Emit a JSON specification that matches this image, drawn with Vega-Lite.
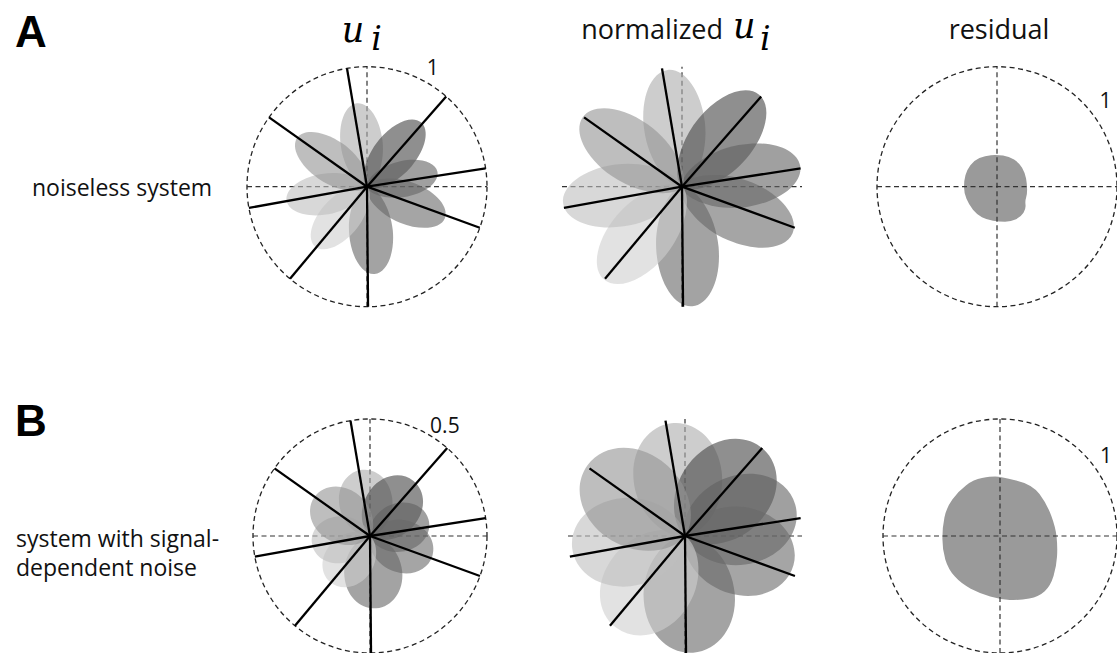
{
  "$schema": "https://vega.github.io/schema/vega-lite/v6.json",
  "padding": 0,
  "background": "white",
  "config": {"view": {"stroke": null}, "legend": {"disable": true}, "font": "Open Sans"},
  "datasets": {
    "petals": [
      {"panel": "Au", "unit": 1, "dir": 97, "value": 0.70},
      {"panel": "Au", "unit": 2, "dir": 50, "value": 0.70},
      {"panel": "Au", "unit": 3, "dir": 12, "value": 0.60},
      {"panel": "Au", "unit": 4, "dir": 338, "value": 0.70},
      {"panel": "Au", "unit": 5, "dir": 275, "value": 0.73},
      {"panel": "Au", "unit": 6, "dir": 229, "value": 0.66},
      {"panel": "Au", "unit": 7, "dir": 190, "value": 0.68},
      {"panel": "Au", "unit": 8, "dir": 145, "value": 0.71},
      {"panel": "An", "unit": 1, "dir": 97, "value": 0.98},
      {"panel": "An", "unit": 2, "dir": 50, "value": 1.0},
      {"panel": "An", "unit": 3, "dir": 10, "value": 1.0},
      {"panel": "An", "unit": 4, "dir": 337, "value": 1.0},
      {"panel": "An", "unit": 5, "dir": 275, "value": 1.0},
      {"panel": "An", "unit": 6, "dir": 230, "value": 1.01},
      {"panel": "An", "unit": 7, "dir": 188, "value": 1.0},
      {"panel": "An", "unit": 8, "dir": 145, "value": 1.01},
      {"panel": "Bu", "unit": 1, "dir": 97, "value": 0.285},
      {"panel": "Bu", "unit": 2, "dir": 52, "value": 0.30},
      {"panel": "Bu", "unit": 3, "dir": 16, "value": 0.26},
      {"panel": "Bu", "unit": 4, "dir": 342, "value": 0.28},
      {"panel": "Bu", "unit": 5, "dir": 275, "value": 0.31},
      {"panel": "Bu", "unit": 6, "dir": 229, "value": 0.26},
      {"panel": "Bu", "unit": 7, "dir": 187, "value": 0.25},
      {"panel": "Bu", "unit": 8, "dir": 145, "value": 0.29},
      {"panel": "Bn", "unit": 1, "dir": 97, "value": 0.97},
      {"panel": "Bn", "unit": 2, "dir": 48, "value": 1.0},
      {"panel": "Bn", "unit": 3, "dir": 16, "value": 0.98},
      {"panel": "Bn", "unit": 4, "dir": 345, "value": 0.96},
      {"panel": "Bn", "unit": 5, "dir": 274, "value": 1.0},
      {"panel": "Bn", "unit": 6, "dir": 233, "value": 0.98},
      {"panel": "Bn", "unit": 7, "dir": 186, "value": 0.97},
      {"panel": "Bn", "unit": 8, "dir": 144, "value": 1.03}
    ],
    "dirs": [
      {"unit": 1, "dir": 99.6},
      {"unit": 2, "dir": 48.7},
      {"unit": 3, "dir": 8.8},
      {"unit": 4, "dir": 340.0},
      {"unit": 5, "dir": 270.5},
      {"unit": 6, "dir": 230.1},
      {"unit": 7, "dir": 190.2},
      {"unit": 8, "dir": 144.7}
    ],
    "resid": [
      {"panel": "Ar", "value": 0.267},
      {"panel": "Br", "value": 0.5}
    ]
  },
  "spacing": 88,
  "resolve": {"scale": {"size": "independent"}},
  "vconcat": [
    {
      "spacing": 75,
      "bounds": "flush",
      "resolve": {"scale": {"size": "independent"}},
      "hconcat": [
        {
          "width": 172, "height": 306.7,
          "data": {"values": [{"k": 1}]},
          "encoding": {
            "x": {"datum": 0, "type": "quantitative", "scale": {"domain": [0, 1], "nice": false, "zero": false}, "axis": null},
            "y": {"datum": 0, "type": "quantitative", "scale": {"domain": [-1, 1.5558], "nice": false, "zero": false}, "axis": null}
          },
          "layer": [
            {"mark": {"type": "text", "text": "A", "font": "Liberation Sans", "fontWeight": "bold", "fontSize": 44, "align": "left", "baseline": "alphabetic", "color": "black"},
             "encoding": {"x": {"datum": 0.087}, "y": {"datum": 1.164}}},
            {"mark": {"type": "text", "text": "noiseless system", "font": "Open Sans", "fontSize": 23, "align": "left", "baseline": "alphabetic", "color": "#111"},
             "encoding": {"x": {"datum": 0.186}, "y": {"datum": -0.0775}}}
          ]
        },
        {
          "width": 240, "height": 306.7,
          "data": {"values": [{"k": 1}]},
          "encoding": {
            "x": {"datum": 0, "type": "quantitative", "scale": {"domain": [-1, 1], "nice": false, "zero": false}, "axis": null},
            "y": {"datum": 0, "type": "quantitative", "scale": {"domain": [-1, 1.5558], "nice": false, "zero": false}, "axis": null}
          },
          "layer": [
            {"mark": {"type": "point", "shape": "M2,0C2,1.105 1.105,2 0,2C-1.105,2 -2,1.105 -2,0C-2,-1.105 -1.105,-2 0,-2C1.105,-2 2,-1.105 2,0Z", "filled": false, "color": "#222", "stroke": "#222", "strokeWidth": 1.3, "strokeDash": [5, 3.5], "opacity": 1},
             "encoding": {"size": {"datum": 1, "type": "quantitative", "scale": {"type": "pow", "exponent": 2, "domain": [0, 1], "range": [0, 14400]}}}},
            {"mark": {"type": "rule", "color": "#333", "strokeWidth": 1.2, "strokeDash": [5, 3.5]},
             "encoding": {"x": {"datum": -1}, "x2": {"datum": 1}, "y": {"datum": 0}}},
            {"mark": {"type": "rule", "color": "#333", "strokeWidth": 1.2, "strokeDash": [5, 3.5]},
             "encoding": {"y": {"datum": -1}, "y2": {"datum": 1}, "x": {"datum": 0}}},
            {"data": {"name": "petals"}, "transform": [{"filter": "datum.panel === 'Au'"}],
             "mark": {"type": "point", "shape": "M0,0C0.22,0 0.5,-0.5 0.5,-1.05C0.5,-1.6 0.27,-2 0,-2C-0.27,-2 -0.5,-1.6 -0.5,-1.05C-0.5,-0.5 -0.22,0 0,0Z", "filled": true, "opacity": 1, "fillOpacity": 0.6, "strokeWidth": 0},
             "encoding": {
               "size": {"field": "value", "type": "quantitative", "scale": {"type": "pow", "exponent": 2, "domain": [0, 1], "range": [0, 14400]}},
               "angle": {"field": "dir", "type": "quantitative", "scale": {"domain": [0, 360], "range": [90, -270]}},
               "color": {"field": "unit", "type": "nominal", "scale": {"domain": [1, 2, 3, 4, 5, 6, 7, 8], "range": ["#acacac", "#444444", "#616161", "#696969", "#666666", "#cfcfcf", "#bebebe", "#939393"]}}
             }},
            {"data": {"name": "dirs"},
             "mark": {"type": "point", "shape": "M0,0L0,-2", "filled": false, "color": "black", "stroke": "black", "strokeWidth": 2.3, "strokeCap": "butt", "opacity": 1},
             "encoding": {
               "size": {"datum": 1, "type": "quantitative", "scale": {"type": "pow", "exponent": 2, "domain": [0, 1], "range": [0, 14400]}},
               "angle": {"field": "dir", "type": "quantitative", "scale": {"domain": [0, 360], "range": [90, -270]}}
             }},
            {"mark": {"type": "text", "text": "1", "font": "Open Sans", "fontSize": 21, "align": "center", "baseline": "alphabetic", "color": "#111"},
             "encoding": {"x": {"datum": 0.548}, "y": {"datum": 0.931}}},
            {"mark": {"type": "text", "text": "u", "font": "DejaVu Serif", "fontStyle": "italic", "fontSize": 35, "align": "left", "baseline": "alphabetic", "color": "black"},
             "encoding": {"x": {"datum": -0.21}, "y": {"datum": 1.206}}},
            {"mark": {"type": "text", "text": "i", "font": "DejaVu Serif", "fontStyle": "italic", "fontSize": 33, "align": "left", "baseline": "alphabetic", "color": "black"},
             "encoding": {"x": {"datum": 0.035}, "y": {"datum": 1.139}}}
          ]
        },
        {
          "width": 240, "height": 306.7,
          "data": {"values": [{"k": 1}]},
          "encoding": {
            "x": {"datum": 0, "type": "quantitative", "scale": {"domain": [-1, 1], "nice": false, "zero": false}, "axis": null},
            "y": {"datum": 0, "type": "quantitative", "scale": {"domain": [-1, 1.5558], "nice": false, "zero": false}, "axis": null}
          },
          "layer": [
            {"mark": {"type": "rule", "color": "#333", "strokeWidth": 1.2, "strokeDash": [5, 3.5]},
             "encoding": {"x": {"datum": -1}, "x2": {"datum": 1}, "y": {"datum": 0}}},
            {"mark": {"type": "rule", "color": "#333", "strokeWidth": 1.2, "strokeDash": [5, 3.5]},
             "encoding": {"y": {"datum": -1}, "y2": {"datum": 1}, "x": {"datum": 0}}},
            {"data": {"name": "petals"}, "transform": [{"filter": "datum.panel === 'An'"}],
             "mark": {"type": "point", "shape": "M0,0C0.22,0 0.52,-0.5 0.52,-1.05C0.52,-1.6 0.28,-2 0,-2C-0.28,-2 -0.52,-1.6 -0.52,-1.05C-0.52,-0.5 -0.22,0 0,0Z", "filled": true, "opacity": 1, "fillOpacity": 0.6, "strokeWidth": 0},
             "encoding": {
               "size": {"field": "value", "type": "quantitative", "scale": {"type": "pow", "exponent": 2, "domain": [0, 1], "range": [0, 14400]}},
               "angle": {"field": "dir", "type": "quantitative", "scale": {"domain": [0, 360], "range": [90, -270]}},
               "color": {"field": "unit", "type": "nominal", "scale": {"domain": [1, 2, 3, 4, 5, 6, 7, 8], "range": ["#acacac", "#444444", "#616161", "#696969", "#666666", "#cfcfcf", "#bebebe", "#939393"]}}
             }},
            {"data": {"name": "dirs"},
             "mark": {"type": "point", "shape": "M0,0L0,-2", "filled": false, "color": "black", "stroke": "black", "strokeWidth": 2.3, "strokeCap": "butt", "opacity": 1},
             "encoding": {
               "size": {"datum": 1, "type": "quantitative", "scale": {"type": "pow", "exponent": 2, "domain": [0, 1], "range": [0, 14400]}},
               "angle": {"field": "dir", "type": "quantitative", "scale": {"domain": [0, 360], "range": [90, -270]}}
             }},
            {"mark": {"type": "text", "text": "normalized", "font": "Open Sans", "fontSize": 27, "align": "right", "baseline": "alphabetic", "color": "#111"},
             "encoding": {"x": {"datum": 0.342}, "y": {"datum": 1.228}}},
            {"mark": {"type": "text", "text": "u", "font": "DejaVu Serif", "fontStyle": "italic", "fontSize": 35, "align": "left", "baseline": "alphabetic", "color": "black"},
             "encoding": {"x": {"datum": 0.425}, "y": {"datum": 1.237}}},
            {"mark": {"type": "text", "text": "i", "font": "DejaVu Serif", "fontStyle": "italic", "fontSize": 33, "align": "left", "baseline": "alphabetic", "color": "black"},
             "encoding": {"x": {"datum": 0.65}, "y": {"datum": 1.139}}}
          ]
        },
        {
          "width": 240, "height": 306.7,
          "data": {"values": [{"k": 1}]},
          "encoding": {
            "x": {"datum": 0, "type": "quantitative", "scale": {"domain": [-1, 1], "nice": false, "zero": false}, "axis": null},
            "y": {"datum": 0, "type": "quantitative", "scale": {"domain": [-1, 1.5558], "nice": false, "zero": false}, "axis": null}
          },
          "layer": [
            {"mark": {"type": "point", "shape": "M2,0C2,1.105 1.105,2 0,2C-1.105,2 -2,1.105 -2,0C-2,-1.105 -1.105,-2 0,-2C1.105,-2 2,-1.105 2,0Z", "filled": false, "color": "#222", "stroke": "#222", "strokeWidth": 1.3, "strokeDash": [5, 3.5], "opacity": 1},
             "encoding": {"size": {"datum": 1, "type": "quantitative", "scale": {"type": "pow", "exponent": 2, "domain": [0, 1], "range": [0, 14400]}}}},
            {"data": {"name": "resid"}, "transform": [{"filter": "datum.panel === 'Ar'"}],
             "mark": {"type": "point", "shape": "M-0.375,-1.97Q0,-2 0.375,-1.94Q0.75,-1.88 1.065,-1.69Q1.38,-1.5 1.565,-1.19Q1.75,-0.88 1.815,-0.505Q1.88,-0.13 1.88,0.185Q1.88,0.5 1.815,0.69Q1.75,0.88 1.78,1.13Q1.81,1.38 1.655,1.63Q1.5,1.88 1.19,2.035Q0.88,2.19 0.505,2.19Q0.13,2.19 -0.25,2.125Q-0.63,2.06 -0.94,1.905Q-1.25,1.75 -1.5,1.44Q-1.75,1.13 -1.905,0.755Q-2.06,0.38 -2.06,0Q-2.06,-0.38 -1.97,-0.72Q-1.88,-1.06 -1.66,-1.345Q-1.44,-1.63 -1.095,-1.785Q-0.75,-1.94 -0.375,-1.97Z", "filled": true, "color": "#9a9a9a", "fill": "#9a9a9a", "opacity": 1, "strokeWidth": 0},
             "encoding": {"size": {"field": "value", "type": "quantitative", "scale": {"type": "pow", "exponent": 2, "domain": [0, 1], "range": [0, 14400]}}}},
            {"mark": {"type": "rule", "color": "#333", "strokeWidth": 1.2, "strokeDash": [5, 3.5]},
             "encoding": {"x": {"datum": -1}, "x2": {"datum": 1}, "y": {"datum": 0}}},
            {"mark": {"type": "rule", "color": "#333", "strokeWidth": 1.2, "strokeDash": [5, 3.5]},
             "encoding": {"y": {"datum": -1}, "y2": {"datum": 1}, "x": {"datum": 0}}},
            {"mark": {"type": "text", "text": "1", "font": "Open Sans", "fontSize": 21, "align": "center", "baseline": "alphabetic", "color": "#111"},
             "encoding": {"x": {"datum": 0.904}, "y": {"datum": 0.653}}},
            {"mark": {"type": "text", "text": "residual", "font": "Open Sans", "fontSize": 27, "align": "center", "baseline": "alphabetic", "color": "#111"},
             "encoding": {"x": {"datum": 0.017}, "y": {"datum": 1.228}}}
          ]
        }
      ]
    },
    {
      "spacing": 75,
      "bounds": "flush",
      "resolve": {"scale": {"size": "independent"}},
      "hconcat": [
        {
          "width": 175, "height": 240,
          "data": {"values": [{"k": 1}]},
          "encoding": {
            "x": {"datum": 0, "type": "quantitative", "scale": {"domain": [0, 1], "nice": false, "zero": false}, "axis": null},
            "y": {"datum": 0, "type": "quantitative", "scale": {"domain": [-1.0256, 1.0256], "nice": false, "zero": false}, "axis": null}
          },
          "layer": [
            {"mark": {"type": "text", "text": "B", "font": "Liberation Sans", "fontWeight": "bold", "fontSize": 44, "align": "left", "baseline": "alphabetic", "color": "black"},
             "encoding": {"x": {"datum": 0.0857}, "y": {"datum": 0.855}}},
            {"mark": {"type": "text", "text": ["system with signal-", "dependent noise"], "font": "Open Sans", "fontSize": 23, "lineHeight": 29, "align": "left", "baseline": "alphabetic", "color": "#111"},
             "encoding": {"x": {"datum": 0.0914}, "y": {"datum": -0.095}}}
          ]
        },
        {
          "width": 240, "height": 240,
          "data": {"values": [{"k": 1}]},
          "encoding": {
            "x": {"datum": 0, "type": "quantitative", "scale": {"domain": [-0.5128, 0.5128], "nice": false, "zero": false}, "axis": null},
            "y": {"datum": 0, "type": "quantitative", "scale": {"domain": [-0.5128, 0.5128], "nice": false, "zero": false}, "axis": null}
          },
          "layer": [
            {"mark": {"type": "point", "shape": "M2,0C2,1.105 1.105,2 0,2C-1.105,2 -2,1.105 -2,0C-2,-1.105 -1.105,-2 0,-2C1.105,-2 2,-1.105 2,0Z", "filled": false, "color": "#222", "stroke": "#222", "strokeWidth": 1.3, "strokeDash": [5, 3.5], "opacity": 1},
             "encoding": {"size": {"datum": 0.5, "type": "quantitative", "scale": {"type": "pow", "exponent": 2, "domain": [0, 0.5], "range": [0, 13689]}}}},
            {"mark": {"type": "rule", "color": "#333", "strokeWidth": 1.2, "strokeDash": [5, 3.5]},
             "encoding": {"x": {"datum": -0.5}, "x2": {"datum": 0.5}, "y": {"datum": 0}}},
            {"mark": {"type": "rule", "color": "#333", "strokeWidth": 1.2, "strokeDash": [5, 3.5]},
             "encoding": {"y": {"datum": -0.5}, "y2": {"datum": 0.5}, "x": {"datum": 0}}},
            {"data": {"name": "petals"}, "transform": [{"filter": "datum.panel === 'Bu'"}],
             "mark": {"type": "point", "shape": "M0,0C0.35,0 0.8,-0.45 0.8,-1.05C0.8,-1.6 0.44,-2 0,-2C-0.44,-2 -0.8,-1.6 -0.8,-1.05C-0.8,-0.45 -0.35,0 0,0Z", "filled": true, "opacity": 1, "fillOpacity": 0.6, "strokeWidth": 0},
             "encoding": {
               "size": {"field": "value", "type": "quantitative", "scale": {"type": "pow", "exponent": 2, "domain": [0, 0.5], "range": [0, 13689]}},
               "angle": {"field": "dir", "type": "quantitative", "scale": {"domain": [0, 360], "range": [90, -270]}},
               "color": {"field": "unit", "type": "nominal", "scale": {"domain": [1, 2, 3, 4, 5, 6, 7, 8], "range": ["#acacac", "#444444", "#616161", "#696969", "#666666", "#cfcfcf", "#bebebe", "#939393"]}}
             }},
            {"data": {"name": "dirs"},
             "mark": {"type": "point", "shape": "M0,0L0,-2", "filled": false, "color": "black", "stroke": "black", "strokeWidth": 2.3, "strokeCap": "butt", "opacity": 1},
             "encoding": {
               "size": {"datum": 0.5, "type": "quantitative", "scale": {"type": "pow", "exponent": 2, "domain": [0, 0.5], "range": [0, 13689]}},
               "angle": {"field": "dir", "type": "quantitative", "scale": {"domain": [0, 360], "range": [90, -270]}}
             }},
            {"mark": {"type": "text", "text": "0.5", "font": "Open Sans", "fontSize": 21, "align": "center", "baseline": "alphabetic", "color": "#111"},
             "encoding": {"x": {"datum": 0.32}, "y": {"datum": 0.441}}}
          ]
        },
        {
          "width": 240, "height": 240,
          "data": {"values": [{"k": 1}]},
          "encoding": {
            "x": {"datum": 0, "type": "quantitative", "scale": {"domain": [-1.0256, 1.0256], "nice": false, "zero": false}, "axis": null},
            "y": {"datum": 0, "type": "quantitative", "scale": {"domain": [-1.0256, 1.0256], "nice": false, "zero": false}, "axis": null}
          },
          "layer": [
            {"mark": {"type": "rule", "color": "#333", "strokeWidth": 1.2, "strokeDash": [5, 3.5]},
             "encoding": {"x": {"datum": -1}, "x2": {"datum": 1}, "y": {"datum": 0}}},
            {"mark": {"type": "rule", "color": "#333", "strokeWidth": 1.2, "strokeDash": [5, 3.5]},
             "encoding": {"y": {"datum": -1}, "y2": {"datum": 1}, "x": {"datum": 0}}},
            {"data": {"name": "petals"}, "transform": [{"filter": "datum.panel === 'Bn'"}],
             "mark": {"type": "point", "shape": "M0,0C0.35,0 0.78,-0.45 0.78,-1.05C0.78,-1.6 0.43,-2 0,-2C-0.43,-2 -0.78,-1.6 -0.78,-1.05C-0.78,-0.45 -0.35,0 0,0Z", "filled": true, "opacity": 1, "fillOpacity": 0.6, "strokeWidth": 0},
             "encoding": {
               "size": {"field": "value", "type": "quantitative", "scale": {"type": "pow", "exponent": 2, "domain": [0, 1], "range": [0, 13689]}},
               "angle": {"field": "dir", "type": "quantitative", "scale": {"domain": [0, 360], "range": [90, -270]}},
               "color": {"field": "unit", "type": "nominal", "scale": {"domain": [1, 2, 3, 4, 5, 6, 7, 8], "range": ["#acacac", "#444444", "#616161", "#696969", "#666666", "#cfcfcf", "#bebebe", "#939393"]}}
             }},
            {"data": {"name": "dirs"},
             "mark": {"type": "point", "shape": "M0,0L0,-2", "filled": false, "color": "black", "stroke": "black", "strokeWidth": 2.3, "strokeCap": "butt", "opacity": 1},
             "encoding": {
               "size": {"datum": 1, "type": "quantitative", "scale": {"type": "pow", "exponent": 2, "domain": [0, 1], "range": [0, 13689]}},
               "angle": {"field": "dir", "type": "quantitative", "scale": {"domain": [0, 360], "range": [90, -270]}}
             }}
          ]
        },
        {
          "width": 240, "height": 240,
          "data": {"values": [{"k": 1}]},
          "encoding": {
            "x": {"datum": 0, "type": "quantitative", "scale": {"domain": [-1.0256, 1.0256], "nice": false, "zero": false}, "axis": null},
            "y": {"datum": 0, "type": "quantitative", "scale": {"domain": [-1.0256, 1.0256], "nice": false, "zero": false}, "axis": null}
          },
          "layer": [
            {"mark": {"type": "point", "shape": "M2,0C2,1.105 1.105,2 0,2C-1.105,2 -2,1.105 -2,0C-2,-1.105 -1.105,-2 0,-2C1.105,-2 2,-1.105 2,0Z", "filled": false, "color": "#222", "stroke": "#222", "strokeWidth": 1.3, "strokeDash": [5, 3.5], "opacity": 1},
             "encoding": {"size": {"datum": 1, "type": "quantitative", "scale": {"type": "pow", "exponent": 2, "domain": [0, 1], "range": [0, 13689]}}}},
            {"data": {"name": "resid"}, "transform": [{"filter": "datum.panel === 'Br'"}],
             "mark": {"type": "point", "shape": "M-0.165,-2.03Q0,-2.03 0.55,-1.9Q1.1,-1.77 1.35,-1.435Q1.6,-1.1 1.75,-0.7Q1.9,-0.3 1.935,0.035Q1.97,0.37 1.95,0.7Q1.93,1.03 1.83,1.365Q1.73,1.7 1.53,1.885Q1.33,2.07 1.0,2.135Q0.67,2.2 0.335,2.185Q0,2.17 -0.335,2.07Q-0.67,1.97 -1.0,1.8Q-1.33,1.63 -1.55,1.38Q-1.77,1.13 -1.87,0.8Q-1.97,0.47 -1.97,0.085Q-1.97,-0.3 -1.9,-0.635Q-1.83,-0.97 -1.63,-1.25Q-1.43,-1.53 -1.165,-1.73Q-0.9,-1.93 -0.615,-1.98Q-0.33,-2.03 -0.165,-2.03Z", "filled": true, "color": "#9a9a9a", "fill": "#9a9a9a", "opacity": 1, "strokeWidth": 0},
             "encoding": {"size": {"field": "value", "type": "quantitative", "scale": {"type": "pow", "exponent": 2, "domain": [0, 1], "range": [0, 13689]}}}},
            {"mark": {"type": "rule", "color": "#333", "strokeWidth": 1.2, "strokeDash": [5, 3.5]},
             "encoding": {"x": {"datum": -1}, "x2": {"datum": 1}, "y": {"datum": 0}}},
            {"mark": {"type": "rule", "color": "#333", "strokeWidth": 1.2, "strokeDash": [5, 3.5]},
             "encoding": {"y": {"datum": -1}, "y2": {"datum": 1}, "x": {"datum": 0}}},
            {"mark": {"type": "text", "text": "1", "font": "Open Sans", "fontSize": 21, "align": "center", "baseline": "alphabetic", "color": "#111"},
             "encoding": {"x": {"datum": 0.906}, "y": {"datum": 0.621}}}
          ]
        }
      ]
    }
  ]
}
